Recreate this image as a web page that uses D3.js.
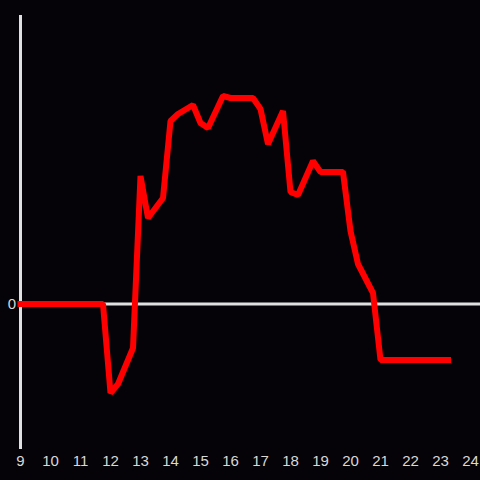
<!DOCTYPE html>
<html>
<head>
<meta charset="utf-8">
<script src="https://cdn.jsdelivr.net/npm/d3@7"></script>
<style>
  html, body { margin: 0; padding: 0; background: #050308; }
  svg { display: block; }
</style>
</head>
<body>
<div id="chart"></div>
<script>
const hours = [9, 11.75, 12, 12.25, 12.75, 13, 13.25, 13.75, 14, 14.25, 14.75, 15, 15.25, 15.75, 16, 16.75, 17, 17.25, 17.75, 18, 18.25, 18.75, 19, 19.75, 20, 20.25, 20.75, 21, 23.25]
const values = [0, 0, -89, -80, -44, 128, 86, 106, 183, 190, 199, 181, 176, 208, 206, 206, 195, 160, 193, 112, 109, 143, 132, 132, 73, 40, 11, -56, -56]
const xTicks = d3.range(9, 25)
const yTicks = [0]

const width = 480
const height = 480

const svg = d3
  .select('#chart')
  .append('svg')
  .attr('width', width)
  .attr('height', height)
  .style('background', '#050308')

const x = d3.scaleLinear().domain([9, 24]).range([20.5, 470.5])
const y = d3.scaleLinear().domain([-145, 289]).range([449, 15])

// y axis line
svg
  .append('line')
  .attr('x1', x(9))
  .attr('x2', x(9))
  .attr('y1', y(289))
  .attr('y2', y(-145))
  .attr('stroke', '#e0e0e0')
  .attr('stroke-width', 3)

// zero line
svg
  .append('line')
  .attr('x1', x(9))
  .attr('x2', width)
  .attr('y1', y(0))
  .attr('y2', y(0))
  .attr('stroke', '#e0e0e0')
  .attr('stroke-width', 3)

svg
  .selectAll('text.ylab')
  .data(yTicks)
  .enter()
  .append('text')
  .attr('class', 'ylab')
  .attr('x', 16)
  .attr('y', d => y(d))
  .attr('dy', '0.36em')
  .attr('text-anchor', 'end')
  .attr('fill', '#d8d8d8')
  .style('font', '15px "Liberation Sans", Arial, sans-serif')
  .text(d => d)

svg
  .selectAll('text.xlab')
  .data(xTicks)
  .enter()
  .append('text')
  .attr('class', 'xlab')
  .attr('x', d => x(d))
  .attr('y', 466)
  .attr('text-anchor', 'middle')
  .attr('fill', '#d8d8d8')
  .style('font', '15px "Liberation Sans", Arial, sans-serif')
  .text(d => d)

const line = d3
  .line()
  .x((d, i) => x(hours[i]))
  .y(d => y(d))

svg
  .append('path')
  .datum(values)
  .attr('d', line)
  .attr('fill', 'none')
  .attr('stroke', '#ff0000')
  .attr('stroke-width', 6)
  .attr('stroke-linejoin', 'bevel')
  .attr('stroke-linecap', 'square')
</script>
</body>
</html>
